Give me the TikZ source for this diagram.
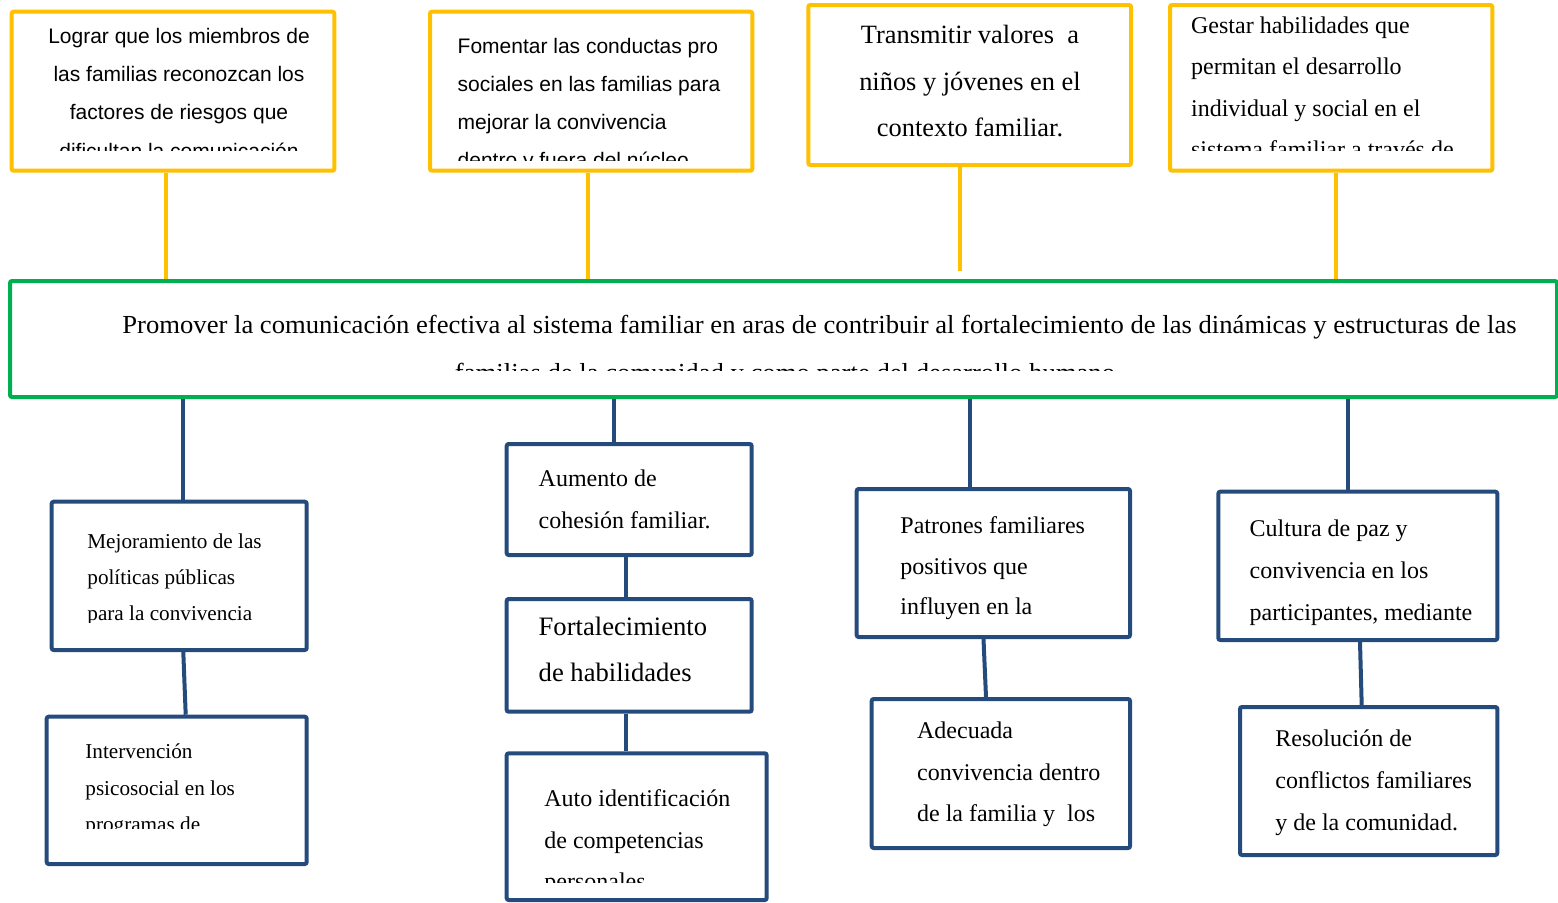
\documentclass[tikz,border=0pt]{standalone}
\usepackage{fontspec}
\usepackage{graphicx}
\setmainfont{Liberation Serif}
\newfontfamily\sansf{Liberation Sans}
\usetikzlibrary{fit}
\definecolor{yel}{HTML}{FFC000}
\definecolor{grn}{HTML}{00B050}
\definecolor{blu}{HTML}{254B7D}
\tikzset{
  boxbase/.style={rectangle, inner sep=0pt, line width=2pt, rounded corners=1pt, fill=white},
  ybox/.style={boxbase, draw=yel},
  gbox/.style={boxbase, draw=grn},
  bbox/.style={boxbase, draw=blu},
  ylink/.style={draw=yel, line width=2pt},
  blink/.style={draw=blu, line width=2pt},
  txt/.style={inner sep=0pt, anchor=base west, align=left},
  ctxt/.style={inner sep=0pt, anchor=base, align=center},
}
\begin{document}
\begin{tikzpicture}[x=0.5pt,y=-0.5pt]
\useasboundingbox (0,0) rectangle (1558,902);

% x positions of connectors
\coordinate (xa) at (166,0);
\coordinate (xb) at (588,0);
\coordinate (xc) at (960,0);
\coordinate (xd) at (1336,0);
\coordinate (xe) at (183.3,0);
\coordinate (xe2) at (185.7,0);
\coordinate (xf) at (614,0);
\coordinate (xg) at (626,0);
\coordinate (xh) at (970,0);
\coordinate (xi) at (983.5,0);
\coordinate (xi2) at (986,0);
\coordinate (xj) at (1348.3,0);
\coordinate (xk) at (1360,0);
\coordinate (xk2) at (1361.7,0);

% boxes
\node[ybox, fit={(11.7,11.7) (334.3,170.7)}] (t1) {};
\node[ybox, fit={(430,11.7) (752.3,170.7)}] (t2) {};
\node[ybox, fit={(808.3,5) (1131,165)}] (t3) {};
\node[ybox, fit={(1170,5) (1492.3,170.7)}] (t4) {};
\node[gbox, fit={(10,281) (1557,397)}] (main) {};
\node[bbox, fit={(51.7,501.7) (306.7,650)}] (b1) {};
\node[bbox, fit={(46.7,716.7) (306.7,864)}] (b2) {};
\node[bbox, fit={(506.7,444) (751.7,555)}] (b3) {};
\node[bbox, fit={(506.7,599) (751.7,711.7)}] (b4) {};
\node[bbox, fit={(506.7,753.3) (766.7,900)}] (b5) {};
\node[bbox, fit={(856.7,489) (1130,637)}] (b6) {};
\node[bbox, fit={(871.7,699) (1130,848)}] (b7) {};
\node[bbox, fit={(1218.3,491.7) (1497.3,640)}] (b8) {};
\node[bbox, fit={(1240,707) (1497.3,855)}] (b9) {};

% connectors
\draw[ylink] (t1.south -| xa) -- (main.north -| xa);
\draw[ylink] (t2.south -| xb) -- (main.north -| xb);
\draw[ylink] (t3.south -| xc) -- ([yshift=4pt]main.north -| xc);
\draw[ylink] (t4.south -| xd) -- (main.north -| xd);
\draw[blink] (main.south -| xe) -- (b1.north -| xe);
\draw[blink] (b1.south -| xe) -- (b2.north -| xe2);
\draw[blink] (main.south -| xf) -- (b3.north -| xf);
\draw[blink] (b3.south -| xg) -- (b4.north -| xg);
\draw[blink] (b4.south -| xg) -- (b5.north -| xg);
\draw[blink] (main.south -| xh) -- (b6.north -| xh);
\draw[blink] (b6.south -| xi) -- (b7.north -| xi2);
\draw[blink] (main.south -| xj) -- (b8.north -| xj);
\draw[blink] (b8.south -| xk) -- (b9.north -| xk2);

% texts (anchors are at the baseline of the last line)
\begin{scope}
\clip (14,14) rectangle (332,150);
\node[ctxt, font={\sansf\fontsize{10.5pt}{19.15pt}\selectfont}] (t1t) at (179,158.2)
 {Lograr que los miembros de\\las familias reconozcan los\\factores de riesgos que\\dificultan la comunicación};
\end{scope}
\begin{scope}
\clip (432,14) rectangle (750,160);
\node[txt, font={\sansf\fontsize{10.5pt}{19pt}\selectfont}] (t2t) at (457.3,167.3)
 {Fomentar las conductas pro\\sociales en las familias para\\mejorar la convivencia\\dentro y fuera del núcleo};
\end{scope}
\node[ctxt, font={\fontsize{13.2pt}{23.35pt}\selectfont}] (t3t) at (970,136.7)
 {Transmitir valores\ \ a\\niños y jóvenes en el\\contexto familiar.};
\begin{scope}
\clip (1172,7) rectangle (1490,150);
\node[txt, font={\fontsize{12pt}{20.75pt}\selectfont}] (t4t) at (1190.7,157.8)
 {Gestar habilidades que\\permitan el desarrollo\\individual y social en el\\sistema familiar a través de};
\end{scope}
\begin{scope}
\clip (12,283) rectangle (1555,370);
\node[txt, font={\fontsize{13pt}{24pt}\selectfont}] (m1) at (122,333.3)
 {\resizebox{697pt}{\height}{Promover la comunicación efectiva al sistema familiar en aras de contribuir al fortalecimiento de las dinámicas y estructuras de las}};
\node[ctxt, font={\fontsize{13pt}{24pt}\selectfont}] (m2) at (785,381)
 {\resizebox{330pt}{\height}{familias de la comunidad y como parte del desarrollo humano}};
\end{scope}
\begin{scope}
\clip (54,504) rectangle (304,622);
\node[txt, font={\fontsize{10.6pt}{18pt}\selectfont}] (b1t) at (87,620.3)
 {Mejoramiento de las\\políticas públicas\\para la convivencia};
\end{scope}
\begin{scope}
\clip (49,719) rectangle (304,828);
\node[txt, font={\fontsize{10.6pt}{18.35pt}\selectfont}] (b2t) at (85,831.7)
 {Intervención\\psicosocial en los\\programas de};
\end{scope}
\node[txt, font={\fontsize{12pt}{20.8pt}\selectfont}] (b3t) at (538.3,528.3)
 {Aumento de\\cohesión familiar.};
\node[txt, font={\fontsize{13.3pt}{23.35pt}\selectfont}] (b4t) at (538.3,681.7)
 {Fortalecimiento\\de habilidades};
\begin{scope}
\clip (509,756) rectangle (764,882);
\node[txt, font={\fontsize{12pt}{20.8pt}\selectfont}] (b5t) at (544,889.9)
 {Auto identificación\\de competencias\\personales};
\end{scope}
\node[txt, font={\fontsize{12pt}{20.4pt}\selectfont}] (b6t) at (900,614.9)
 {Patrones familiares\\positivos que\\influyen en la};
\node[txt, font={\fontsize{12pt}{20.85pt}\selectfont}] (b7t) at (916.7,821.7)
 {Adecuada\\convivencia dentro\\de la familia y\ \ los};
\node[txt, font={\fontsize{12pt}{20.85pt}\selectfont}] (b8t) at (1249.3,620)
 {Cultura de paz y\\convivencia en los\\participantes, mediante};
\node[txt, font={\fontsize{12pt}{20.8pt}\selectfont}] (b9t) at (1275,830)
 {Resolución de\\conflictos familiares\\y de la comunidad.};
\end{tikzpicture}
\end{document}
